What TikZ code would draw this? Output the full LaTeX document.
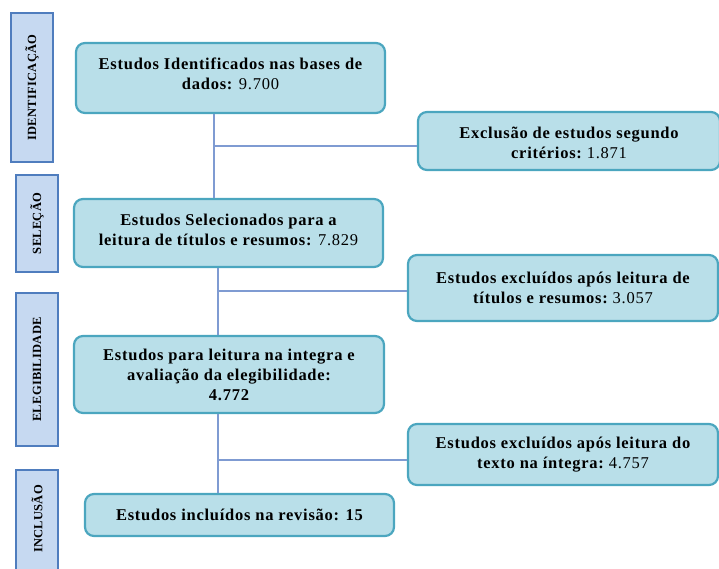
\documentclass[tikz,border=0pt]{standalone}
\usepackage{fontspec}
\setmainfont{Liberation Serif}
\newfontfamily\boxfont[LetterSpace=4.5]{Liberation Serif}
\newfontfamily\stagefont[LetterSpace=2]{Liberation Serif}
\begin{document}
\begin{tikzpicture}[x=1pt,y=-1pt,
  boxtext/.style={align=center,font=\boxfont\bfseries\fontsize{16.5}{20}\selectfont},
  mainbox/.style={draw=boxline,fill=boxfill,line width=2.2pt,rounded corners=9pt,inner sep=0pt,boxtext},
  stagebox/.style={draw=stageline,fill=stagefill,line width=2pt,inner sep=0pt},
  stagetext/.style={rotate=90,font=\stagefont\bfseries\fontsize{12.5}{12}\selectfont},
  link/.style={draw=linkc,line width=1.3pt}]
\definecolor{boxfill}{HTML}{B9DFE9}
\definecolor{boxline}{HTML}{4BA6BF}
\definecolor{stagefill}{HTML}{C6D9F1}
\definecolor{stageline}{HTML}{4F7DBE}
\definecolor{linkc}{HTML}{7F9BD2}
\useasboundingbox (0,0) rectangle (719,568);
% stage boxes
\node[stagebox,minimum width=42pt,minimum height=149pt] (s1) at (32,87.5) {};
\node[stagetext] (s1t) at (s1) {IDENTIFICAÇÃO};
\node[stagebox,minimum width=42pt,minimum height=97pt] (s2) at (37,223.5) {};
\node[stagetext] (s2t) at (s2) {SELEÇÃO};
\node[stagebox,minimum width=42pt,minimum height=153pt] (s3) at (37,369.5) {};
\node[stagetext] (s3t) at (s3) {ELEGIBILIDADE};
\node[stagebox,minimum width=42pt,minimum height=110pt] (s4) at (37,525) {};
\node[stagetext] (s4t) at (37,519) {INCLUSÃO};
% main boxes
\node[mainbox,minimum width=309pt,minimum height=70pt] (b1) at (230.5,78) {};
\node[boxtext] (b1t) at (230.5,74) {Estudos Identificados\ nas bases de\\dados: \mdseries 9.700};
\node[mainbox,minimum width=309pt,minimum height=68pt] (b2) at (228.5,233) {};
\node[boxtext] (b2t) at (228.5,230) {Estudos Selecionados para a\\leitura\ de títulos e resumos: \mdseries 7.829};
\node[mainbox,minimum width=310pt,minimum height=77pt] (b3) at (229,374.5) {Estudos para leitura\ na integra e\\avaliação da elegibilidade:\\4.772};
\node[mainbox,minimum width=309pt,minimum height=42pt] (b4) at (239.5,515) {Estudos incluídos\ na revisão: 15};
% exclusion boxes
\node[mainbox,minimum width=302pt,minimum height=58pt] (e1) at (569,141) {};
\node[boxtext] (e1t) at (569,143) {Exclusão de estudos segundo\\critérios:\ \mdseries 1.871};
\node[mainbox,minimum width=310pt,minimum height=66pt] (e2) at (563,288) {Estudos\ excluídos\ após leitura de\\títulos\ e resumos:\ \mdseries 3.057};
\node[mainbox,minimum width=310pt,minimum height=61pt] (e3) at (563,454.5) {Estudos\ excluídos\ após leitura\ do\\texto na íntegra:\ \mdseries 4.757};
% connectors
\coordinate (j1) at (214,146);
\coordinate (j2) at (218,291);
\coordinate (j3) at (218,460);
\draw[link] (b1.south -| j1) -- (b2.north -| j1);
\draw[link] (j1) -- (e1.west |- j1);
\draw[link] (b2.south -| j2) -- (b3.north -| j2);
\draw[link] (j2) -- (e2.west |- j2);
\draw[link] (b3.south -| j3) -- (b4.north -| j3);
\draw[link] (j3) -- (e3.west |- j3);
\end{tikzpicture}
\end{document}
